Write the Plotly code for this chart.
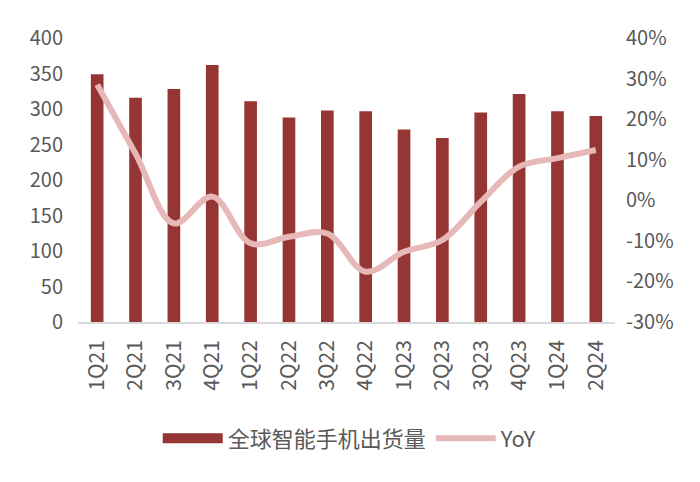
import plotly.graph_objects as go

quarters = ['1Q21', '2Q21', '3Q21', '4Q21', '1Q22', '2Q22', '3Q22', '4Q22',
            '1Q23', '2Q23', '3Q23', '4Q23', '1Q24', '2Q24']
shipments = [349, 316, 328, 362, 311, 288, 298, 297, 271, 259, 295, 321, 297, 290]
yoy = [28.5, 11.5, -5.7, 0.9, -10.6, -9.0, -8.2, -17.6, -12.7, -9.8, -0.4, 8.3, 10.4, 12.4]

pct_ticks = [-0.3, -0.2, -0.1, 0.0, 0.1, 0.2, 0.3, 0.4]
pct_labels = ['-30%', '-20%', '-10%', '0%', '10%', '20%', '30%', '40%']

font_family = 'Noto Sans CJK SC, Noto Sans, sans-serif'
grey = '#595959'
bar_color = '#963634'
line_color = '#E6B9B8'

fig = go.Figure()

fig.add_trace(go.Bar(
    x=quarters, y=shipments, name='全球智能手机出货量', showlegend=False,
    marker=dict(color=bar_color, line=dict(width=0)),
))

# legend entry for the bars, drawn as a thick line so it looks like a wide block
fig.add_trace(go.Scatter(
    x=[None], y=[None], name='全球智能手机出货量', mode='lines',
    line=dict(color=bar_color, width=16),
))

fig.add_trace(go.Scatter(
    x=quarters, y=[v / 100 for v in yoy], name='YoY', yaxis='y2',
    mode='lines', line=dict(color=line_color, width=6, shape='spline', smoothing=1.0),
))

fig.update_layout(
    width=700, height=482,
    margin=dict(l=70, r=93, t=30, b=168, autoexpand=False),
    plot_bgcolor='white', paper_bgcolor='white',
    font=dict(family=font_family, color=grey, size=20),
    bargap=0.67,
    xaxis=dict(
        tickangle=-90, tickfont=dict(size=21), showline=True, linecolor='#D9D9D9',
        linewidth=1.5, ticks='', showgrid=False, ticklabelstandoff=8,
    ),
    yaxis=dict(
        range=[0, 400], dtick=50, showgrid=False, zeroline=False, ticks='',
        tickfont=dict(size=20), ticklabelstandoff=14,
    ),
    yaxis2=dict(
        range=[-0.3, 0.4], tickvals=pct_ticks, ticktext=pct_labels,
        overlaying='y', side='right',
        showgrid=False, zeroline=False, ticks='', tickfont=dict(size=20),
        ticklabelstandoff=10,
    ),
    legend=dict(
        orientation='h', x=0.506, xanchor='center', y=-0.41, yanchor='middle',
        font=dict(size=22), bgcolor='rgba(0,0,0,0)', itemwidth=60,
    ),
)

fig.write_html('out.html')
